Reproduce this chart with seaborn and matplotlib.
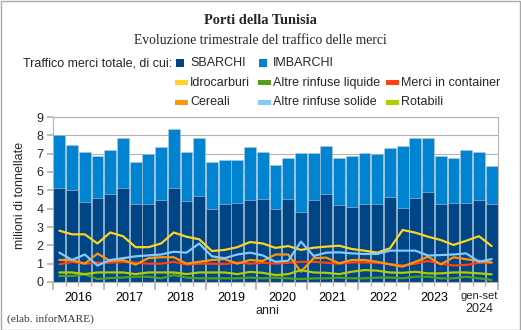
import numpy as np
import pandas as pd
import matplotlib
matplotlib.use("Agg")
import matplotlib.pyplot as plt
from matplotlib.patches import Rectangle
from matplotlib.transforms import blended_transform_factory
import seaborn as sns

# ---------------- data ----------------
quarters = [f"{y} T{q}" for y in range(2016, 2025) for q in range(1, 5)][:35]
year_labels = ["2016", "2017", "2018", "2019", "2020", "2021", "2022", "2023", "gen-set\n2024"]

sbarchi = [5.14, 5.00, 4.38, 4.60, 4.78, 5.14, 4.27, 4.24, 4.46, 5.14, 4.42, 4.69,
           3.97, 4.24, 4.33, 4.46, 4.54, 4.00, 4.54, 3.82, 4.49, 4.80, 4.20, 4.09,
           4.27, 4.27, 4.65, 4.06, 4.60, 4.89, 4.24, 4.33, 4.33, 4.49, 4.24]
imbarchi = [2.90, 2.50, 2.72, 2.28, 2.41, 2.72, 2.28, 2.75, 2.89, 3.23, 2.68, 3.17,
            2.58, 2.42, 2.33, 2.88, 2.56, 2.37, 2.22, 3.19, 2.52, 2.61, 2.54, 2.81,
            2.74, 2.73, 2.67, 3.37, 3.26, 2.99, 2.66, 2.41, 2.88, 2.58, 2.08]
idrocarburi = [2.80, 2.60, 2.60, 2.10, 2.70, 2.50, 1.90, 1.90, 2.10, 2.70, 2.47, 2.33,
               1.69, 1.75, 1.90, 2.18, 2.10, 1.86, 1.96, 1.75, 1.87, 1.93, 1.98, 1.80,
               1.71, 1.60, 1.84, 2.84, 2.69, 2.47, 2.29, 2.02, 2.25, 2.50, 1.96]
rinfuse_liquide = [0.33, 0.33, 0.42, 0.16, 0.22, 0.24, 0.29, 0.29, 0.20, 0.38, 0.24, 0.20,
                   0.20, 0.20, 0.20, 0.24, 0.20, 0.24, 0.20, 0.16, 0.20, 0.20, 0.24, 0.20,
                   0.20, 0.24, 0.24, 0.20, 0.29, 0.29, 0.20, 0.20, 0.29, 0.20, 0.11]
container = [0.96, 1.10, 1.00, 1.05, 1.05, 1.10, 1.05, 1.00, 1.00, 1.10, 0.96, 1.00,
             1.00, 0.98, 1.07, 1.00, 1.05, 1.00, 1.05, 1.10, 1.10, 1.05, 1.00, 1.07,
             1.07, 1.05, 0.98, 0.90, 1.00, 1.15, 1.00, 0.90, 0.93, 1.05, 1.05]
cereali = [1.20, 1.20, 1.00, 1.55, 1.15, 1.20, 0.95, 1.30, 1.35, 1.35, 1.00, 1.10,
           1.20, 1.25, 1.00, 1.20, 1.15, 1.50, 1.50, 0.56, 1.30, 1.33, 1.02, 1.20,
           1.20, 1.10, 0.96, 0.84, 1.10, 1.38, 0.96, 1.35, 1.24, 1.15, 1.07]
rinfuse_solide = [1.60, 1.20, 1.50, 0.90, 1.20, 1.30, 1.40, 1.45, 1.50, 1.65, 1.60, 2.10,
                  1.40, 1.30, 1.50, 1.60, 1.45, 1.10, 1.16, 2.20, 1.42, 1.60, 1.62, 1.56,
                  1.53, 1.53, 1.71, 1.71, 1.71, 1.44, 1.47, 1.50, 1.56, 1.10, 1.25]
rotabili = [0.52, 0.52, 0.43, 0.52, 0.52, 0.52, 0.43, 0.52, 0.52, 0.52, 0.43, 0.52,
            0.52, 0.52, 0.43, 0.55, 0.50, 0.38, 0.43, 0.65, 0.52, 0.50, 0.43, 0.56,
            0.65, 0.62, 0.52, 0.50, 0.56, 0.47, 0.47, 0.52, 0.52, 0.47, 0.42]

# ---------------- styling ----------------
C_SB = "#004586"
C_IM = "#0084d1"
lines_spec = [
    ("Idrocarburi", idrocarburi, "#ffd320"),
    ("Altre rinfuse liquide", rinfuse_liquide, "#579d1c"),
    ("Merci in container", container, "#ff420e"),
    ("Cereali", cereali, "#ff950e"),
    ("Altre rinfuse solide", rinfuse_solide, "#83caff"),
    ("Rotabili", rotabili, "#aecf00"),
]

sns.set_theme(style="white")
plt.rcParams["font.family"] = ["Liberation Sans", "DejaVu Sans"]
FS = 9

W, H = 521, 330
fig = plt.figure(figsize=(W / 100, H / 100), dpi=100)
fig.patch.set_facecolor("white")

def fx(px):
    return px / W

def fy(py):
    return 1 - py / H

ax = fig.add_axes([fx(53), fy(282), fx(498) - fx(53), fy(117) - fy(282)])

df = pd.DataFrame({"q": quarters, "sbarchi": sbarchi, "imbarchi": imbarchi})
df["totale"] = df["sbarchi"] + df["imbarchi"]
idx = np.arange(len(quarters))

sns.barplot(data=df, x="q", y="totale", color=C_IM, saturation=1, width=0.93,
            edgecolor="#b8c8d8", linewidth=0.4, ax=ax, zorder=2)
sns.barplot(data=df, x="q", y="sbarchi", color=C_SB, saturation=1, width=0.93,
            edgecolor="#b8c8d8", linewidth=0.4, ax=ax, zorder=2)

for name, vals, col in lines_spec:
    sns.lineplot(x=idx, y=vals, color=col, linewidth=1.6, ax=ax, zorder=3)

ax.set_xlim(-0.5, 34.5)
ax.set_ylim(0, 9)
ax.set_yticks(range(0, 10))
ax.yaxis.grid(True, color="#b3b3b3", linewidth=0.8, zorder=0)
ax.set_axisbelow(True)
for s in ax.spines.values():
    s.set_color("#b3b3b3")
    s.set_linewidth(0.8)
ax.tick_params(axis="y", length=4, color="#b3b3b3", labelsize=FS, pad=3, left=True)
ax.set_xlabel("")
ax.set_ylabel("")

# x ticks: bar boundaries (minor) and year boundaries (major)
ax.set_xticks([b - 0.5 for b in range(0, 35, 4)] + [34.5])
ax.set_xticklabels([])
ax.set_xticks(np.arange(-0.5, 35, 1), minor=True)
ax.tick_params(axis="x", which="major", length=6, color="#b3b3b3", bottom=True)
ax.tick_params(axis="x", which="minor", length=3, color="#b3b3b3", bottom=True)

trans = blended_transform_factory(ax.transData, fig.transFigure)
for i, lab in enumerate(year_labels[:-1]):
    ax.text(i * 4 + 1.5, fy(298), lab, transform=trans, ha="center", va="center",
            fontsize=FS, color="black")
ax.text(33, fy(296), "gen-set", transform=trans, ha="center", va="center", fontsize=8)
ax.text(33, fy(309), "2024", transform=trans, ha="center", va="center", fontsize=FS)

fig.text(fx(267), fy(311), "anni", ha="center", va="center", fontsize=FS)
fig.text(fx(20), fy(195), "milioni di tonnellate", rotation=90, ha="center", va="center",
         fontsize=FS)

# titles
fig.text(fx(260), fy(20), "Porti della Tunisia", ha="center", va="center",
         fontsize=10.4, fontweight="bold", family=["Liberation Serif", "DejaVu Serif"])
fig.text(fx(260), fy(40), "Evoluzione trimestrale del traffico delle merci", ha="center",
         va="center", fontsize=9.8, family=["Liberation Serif", "DejaVu Serif"])

# legend (manual layout)
fig.text(fx(23), fy(63), "Traffico merci totale, di cui:", ha="left", va="center", fontsize=FS)
for (x0, tx), (lab, col) in zip([(176, 190), (259, 273)], [("SBARCHI", C_SB), ("IMBARCHI", C_IM)]):
    fig.add_artist(Rectangle((fx(x0), fy(67)), fx(8), 8 / H, transform=fig.transFigure,
                             facecolor=col, edgecolor="none"))
    fig.text(fx(tx), fy(63), lab, ha="left", va="center", fontsize=FS)

col_pos = [(175, 190), (258, 273), (386, 401)]
row_y = [83, 102]
for k, (name, vals, col) in enumerate(lines_spec):
    r, c = divmod(k, 3)
    x0, tx = col_pos[c]
    yy = row_y[r]
    fig.add_artist(Rectangle((fx(x0), fy(yy + 2.5)), fx(13), 5 / H, transform=fig.transFigure,
                             facecolor=col, edgecolor="none"))
    fig.text(fx(tx), fy(yy), name, ha="left", va="center", fontsize=FS)

fig.text(fx(7), fy(319), "(elab. inforMARE)", ha="left", va="center", fontsize=8.2,
         color="#333333", family=["Liberation Serif", "DejaVu Serif"])

# outer frame
fig.add_artist(Rectangle((0.5 / W, 0.5 / H), 1 - 1.5 / W, 1 - 1.5 / H, transform=fig.transFigure,
                         facecolor="none", edgecolor="#a8a8a8", linewidth=1.0))

fig.savefig("out.png", dpi=100)
